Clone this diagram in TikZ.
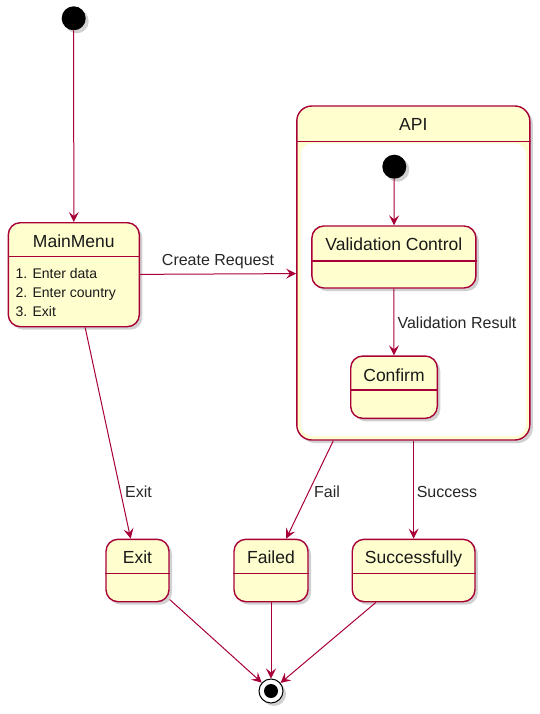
\documentclass[tikz,border=0pt]{standalone}
\usepackage{fontspec}
\setmainfont{Liberation Sans}
\usetikzlibrary{shadows,arrows.meta}
\definecolor{umlborder}{HTML}{A80036}
\definecolor{umlfill}{HTML}{FEFECE}
\tikzset{
  shad/.style={drop shadow={shadow xshift=3pt,shadow yshift=-3pt,opacity=0.3,fill=black!60}},
  statebox/.style={rectangle,draw=umlborder,fill=umlfill,line width=1.4pt,rounded corners=12pt,inner sep=0pt,shad},
  sep/.style={draw=umlborder,line width=1.4pt},
  ttl/.style={font=\fontsize{17.5}{20}\selectfont,text=black!90,inner sep=0pt,anchor=base},
  item/.style={font=\fontsize{14}{16}\selectfont,text=black!90,inner sep=0pt,anchor=base west},
  lbl/.style={font=\fontsize{16}{18}\selectfont,text=black!85,inner sep=0pt,anchor=base},
  conn/.style={draw=umlborder,line width=1pt,-{Stealth[length=10pt,width=10pt,inset=4pt]}},
  startdot/.style={circle,fill=black,minimum size=24pt,inner sep=0pt,shad}
}
\begin{document}
\begin{tikzpicture}[x=1pt,y=-1pt]
\useasboundingbox (0,0) rectangle (540,714);
% start
\node[startdot] (s0) at (73.7,18.3) {};
% MainMenu
\node[statebox,minimum width=131pt,minimum height=104pt] (main) at (73.8,274.7) {};
\draw[sep] (main.west |- 0,256.7) -- (main.east |- 0,256.7);
\node[ttl] (mainT) at (73.8,247.8) {MainMenu};
\node[item] (i1) at (15.5,278) {1. Enter data};
\node[item] (i2) at (15.5,297) {2. Enter country};
\node[item] (i3) at (15.5,316) {3. Exit};
% API composite
\node[statebox,rounded corners=15pt,minimum width=233pt,minimum height=334pt] (api) at (413.3,273) {};
\fill[white,rounded corners=11pt] (300.8,143.5) rectangle (526,436.3);
\draw[sep] (api.west |- 0,141.7) -- (api.east |- 0,141.7);
\node[ttl] (apiT) at (413.3,130.3) {API};
\node[startdot] (s1) at (394.3,166.7) {};
\node[statebox,minimum width=164pt,minimum height=62pt] (vc) at (393.9,257) {};
\draw[sep] (vc.west |- 0,261) -- (vc.east |- 0,261);
\node[ttl] (vcT) at (393.9,250.8) {Validation Control};
\node[statebox,minimum width=86.6pt,minimum height=62.3pt] (conf) at (394,387.2) {};
\draw[sep] (conf.west |- 0,390) -- (conf.east |- 0,390);
\node[ttl] (confT) at (394,381) {Confirm};
% bottom states
\node[statebox,minimum width=63pt,minimum height=62.4pt] (exit) at (137.5,570.5) {};
\draw[sep] (exit.west |- 0,573.3) -- (exit.east |- 0,573.3);
\node[ttl] (exitT) at (137.5,563.3) {Exit};
\node[statebox,minimum width=74pt,minimum height=62.4pt] (fail) at (271,570.5) {};
\draw[sep] (fail.west |- 0,573.3) -- (fail.east |- 0,573.3);
\node[ttl] (failT) at (271,563.3) {Failed};
\node[statebox,minimum width=122.7pt,minimum height=62.4pt] (succ) at (413.6,570.5) {};
\draw[sep] (succ.west |- 0,573.3) -- (succ.east |- 0,573.3);
\node[ttl] (succT) at (413.6,563.3) {Successfully};
% end
\node[circle,draw=black,fill=white,line width=1pt,minimum size=24pt,inner sep=0pt,shad] (end) at (271,691) {};
\fill[black] (end.center) circle (7pt);
% connectors
\draw[conn] (s0) -- (main);
\draw[conn] (main) -- (api);
\draw[conn] (main) -- (exit);
\draw[conn] (s1) -- (vc);
\draw[conn] (vc) -- (conf);
\draw[conn] (api) -- (fail);
\draw[conn] (api.south -| succ.north) -- (succ);
\draw[conn] (exit) -- (end);
\draw[conn] (fail) -- (end);
\draw[conn] (succ) -- (end);
% labels
\node[lbl] (lCR) at (218,265.7) {Create Request};
\node[lbl] (lVR) at (457,328.7) {Validation Result};
\node[lbl] (lEx) at (138.5,497.7) {Exit};
\node[lbl] (lFa) at (327,497.7) {Fail};
\node[lbl] (lSu) at (447,497.7) {Success};
\end{tikzpicture}
\end{document}
